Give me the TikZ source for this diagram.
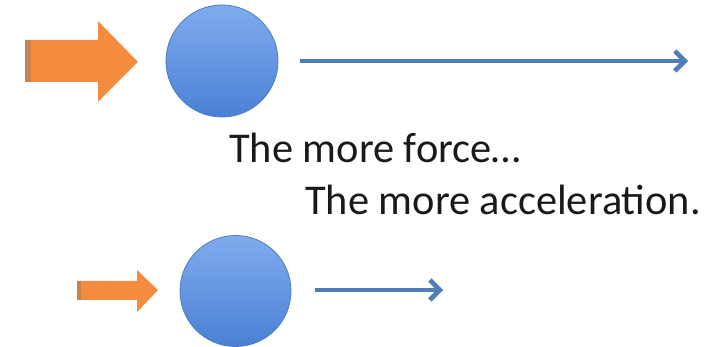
\documentclass[tikz,border=0pt]{standalone}
\usepackage{fontspec}
\setmainfont{Carlito}
\usetikzlibrary{arrows.meta}
\definecolor{forceorange}{HTML}{F58B3E}
\definecolor{forcedark}{HTML}{C9834E}
\definecolor{balltop}{HTML}{80ACEE}
\definecolor{ballbot}{HTML}{4A80D4}
\definecolor{ballline}{HTML}{4C7CC0}
\definecolor{motionblue}{HTML}{4F7DB8}
\tikzset{
  ball/.style={circle, minimum size=#1, inner sep=0pt, draw=ballline, line width=0.8pt,
    top color=balltop, bottom color=ballbot},
  motion/.style={draw=motionblue, line width=4.6pt,
    -{Straight Barb[length=10pt,width=20pt,line width=4.6pt]}},
  force/.style={fill=forceorange},
  forceedge/.style={fill=forcedark},
  caption/.style={anchor=base west, inner sep=0pt, font=\fontsize{42.4}{50}\selectfont, text=black!90}
}
\begin{document}
\begin{tikzpicture}[x=1pt,y=-1pt]
\useasboundingbox (0,0) rectangle (715,347);
% top row
\path[force] (25,40) -- (98,40) -- (98,21) -- (138,62) -- (98,102) -- (98,82) -- (25,82) -- cycle;
\path[forceedge] (25,40) rectangle (31,82);
\node[ball=112pt] (ballA) at (222,61) {};
\coordinate (motA1) at (300,61);
\coordinate (motA2) at (688,61);
\draw[motion] (motA1) -- (motA2);
% captions
\node[caption] (capA) at (229,163) {The more force…};
\node[caption] (capB) at (305,215) {The more acceleration.};
% bottom row
\path[force] (77,281) -- (137,281) -- (137,270) -- (158,290) -- (137,312) -- (137,300) -- (77,300) -- cycle;
\path[forceedge] (77,281) rectangle (81,300);
\node[ball=111pt] (ballB) at (235.5,291) {};
\coordinate (motB1) at (315,290);
\coordinate (motB2) at (443,290);
\draw[motion] (motB1) -- (motB2);
\end{tikzpicture}
\end{document}
